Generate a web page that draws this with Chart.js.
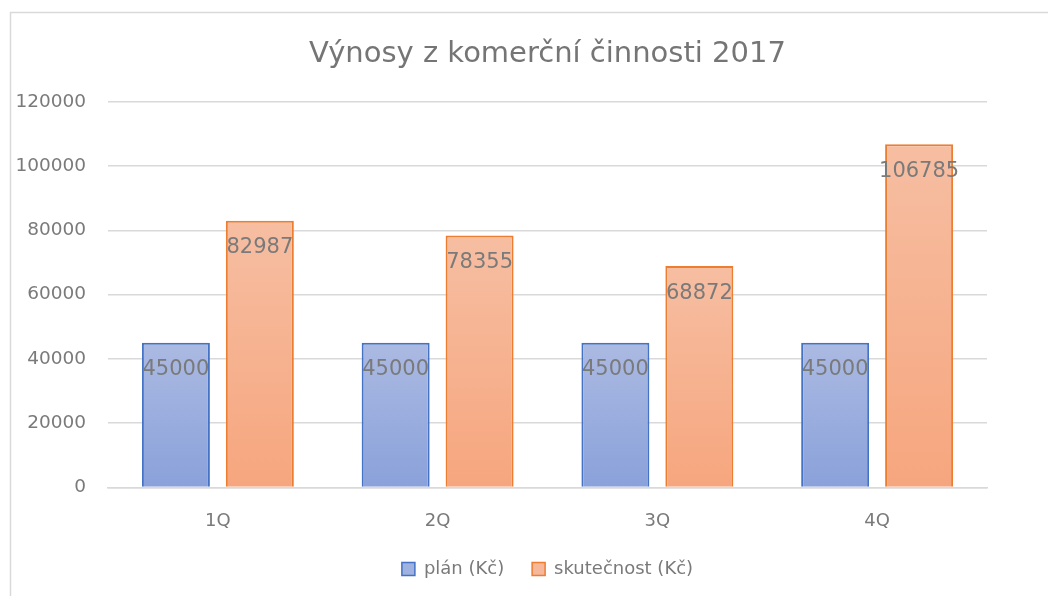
<!DOCTYPE html>
<html>
<head>
    <title>Výnosy z komerční činnosti 2017</title>
    <script src="https://cdn.jsdelivr.net/npm/chart.js"></script>
    <style>
        body {
            margin: 0;
            padding: 0;
            background: white;
        }
        #wrap {
            width: 1048px;
            height: 596px;
            position: relative;
        }
    </style>
</head>
<body>
    <div id="wrap">
        <canvas id="chart1" width="1048" height="596"></canvas>
    </div>

<script>
        // Data
        const quarters = ['1Q', '2Q', '3Q', '4Q'];
        const planValues = [45000, 45000, 45000, 45000];
        const actualValues = [82987, 78355, 68872, 106785];
        const yTicks = [0, 20000, 40000, 60000, 80000, 100000, 120000];

        const font = 'DejaVu Sans';
        const gray = '#7a7a7a';

        // vertical gradient for each bar, from its top down to zero
        function barGradient(top, bottom) {
            return function(context) {
                const chart = context.chart;
                if (!chart.chartArea || !chart.scales.y) return bottom;
                const y = chart.scales.y;
                const y0 = y.getPixelForValue(context.raw);
                const y1 = y.getPixelForValue(0);
                const g = chart.ctx.createLinearGradient(0, y0, 0, y1);
                g.addColorStop(0, top);
                g.addColorStop(1, bottom);
                return g;
            };
        }

        // light grey frame round the chart
        const framePlugin = {
            id: 'frame',
            beforeDraw(chart) {
                const ctx = chart.ctx;
                ctx.save();
                ctx.strokeStyle = '#d9d9d9';
                ctx.lineWidth = 1.5;
                ctx.beginPath();
                ctx.moveTo(10.5, chart.height);
                ctx.lineTo(10.5, 12.5);
                ctx.lineTo(chart.width, 12.5);
                ctx.stroke();
                ctx.restore();
            }
        };

        // values written inside the bar tops
        const labelPlugin = {
            id: 'barLabels',
            afterDatasetsDraw(chart) {
                const ctx = chart.ctx;
                ctx.save();
                ctx.font = '21px "' + font + '"';
                ctx.fillStyle = gray;
                ctx.textAlign = 'center';
                ctx.textBaseline = 'middle';
                chart.data.datasets.forEach((ds, i) => {
                    const meta = chart.getDatasetMeta(i);
                    meta.data.forEach((bar, j) => {
                        ctx.fillText(String(ds.data[j]), bar.x, bar.y + 27);
                    });
                });
                ctx.restore();
            }
        };

        const ctx1 = document.getElementById('chart1').getContext('2d');
        new Chart(ctx1, {
            type: 'bar',
            data: {
                labels: quarters,
                datasets: [
                    {
                        label: 'plán (Kč)',
                        data: planValues,
                        backgroundColor: barGradient('#abbae2', '#8aa1da'),
                        borderColor: '#4472c4',
                        borderWidth: 2,
                        borderSkipped: 'bottom',
                        categoryPercentage: 0.764,
                        barPercentage: 0.81
                    },
                    {
                        label: 'skutečnost (Kč)',
                        data: actualValues,
                        backgroundColor: barGradient('#f6bea2', '#f6a67e'),
                        borderColor: '#ed7d31',
                        borderWidth: 2,
                        borderSkipped: 'bottom',
                        categoryPercentage: 0.764,
                        barPercentage: 0.81
                    }
                ]
            },
            options: {
                responsive: false,
                animation: false,
                layout: {
                    padding: { left: 15, right: 61, top: 0, bottom: 8 }
                },
                plugins: {
                    title: {
                        display: true,
                        fullSize: false,
                        text: 'Výnosy z komerční činnosti 2017',
                        color: '#757575',
                        font: { family: font, size: 29, weight: 'normal' },
                        padding: { top: 37, bottom: 30 }
                    },
                    legend: {
                        position: 'bottom',
                        fullSize: false,
                        labels: {
                            color: gray,
                            font: { family: font, size: 18 },
                            boxWidth: 13,
                            boxHeight: 13,
                            padding: 5,
                            generateLabels() {
                                // trailing spaces keep the gap between the two entries
                                return [
                                    { text: 'plán (Kč)    ', fillStyle: '#a0b2e0', strokeStyle: '#4472c4', lineWidth: 1.5, datasetIndex: 0, fontColor: gray },
                                    { text: 'skutečnost (Kč)', fillStyle: '#f6b79a', strokeStyle: '#ed7d31', lineWidth: 1.5, datasetIndex: 1, fontColor: gray }
                                ];
                            }
                        }
                    },
                    tooltip: { enabled: false }
                },
                scales: {
                    x: {
                        grid: { display: false, drawTicks: false },
                        border: { color: '#d9d9d9', width: 1.5 },
                        ticks: {
                            color: gray,
                            font: { family: font, size: 18 },
                            padding: 23
                        }
                    },
                    y: {
                        min: 0,
                        max: 120000,
                        afterBuildTicks(scale) {
                            scale.ticks = yTicks.map(v => ({ value: v }));
                        },
                        afterFit(scale) {
                            scale.width = 93;
                        },
                        grid: { color: '#d9d9d9', lineWidth: 1.5, drawTicks: false },
                        border: { display: false },
                        ticks: {
                            color: gray,
                            font: { family: font, size: 18.5 },
                            padding: 22,
                            callback: v => String(v)
                        }
                    }
                }
            },
            plugins: [framePlugin, labelPlugin]
        });
    </script>
</body>
</html>
